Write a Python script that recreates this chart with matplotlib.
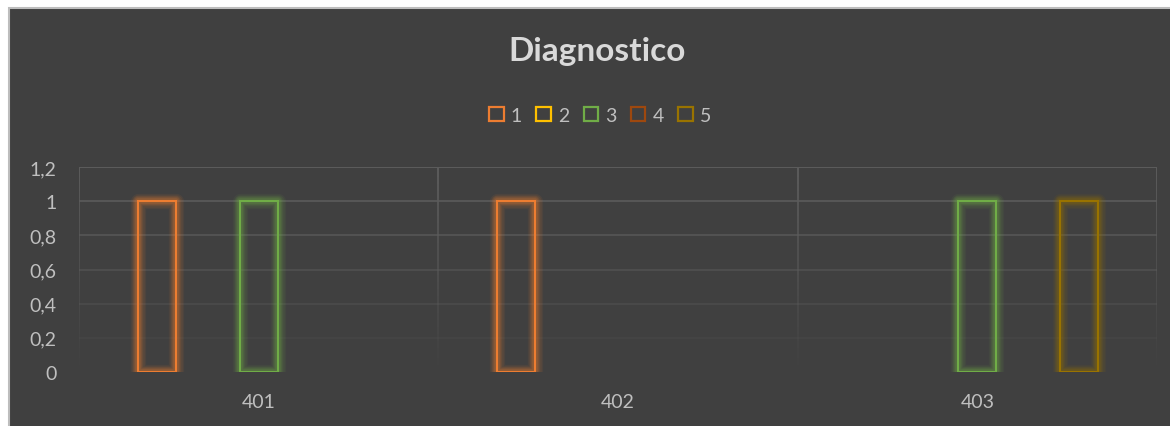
import matplotlib
matplotlib.use("Agg")
import matplotlib.pyplot as plt
from matplotlib.patches import Rectangle, Patch
from matplotlib.collections import LineCollection
import numpy as np

# data
categories = ["401", "402", "403"]
series_names = ["1", "2", "3", "4", "5"]
s1 = [1, 1, 0]
s2 = [0, 0, 0]
s3 = [1, 0, 1]
s4 = [0, 0, 0]
s5 = [0, 0, 1]
series_values = [s1, s2, s3, s4, s5]
y_ticks = [0, 0.2, 0.4, 0.6, 0.8, 1.0, 1.2]

colors = ["#ED7D31", "#FFC000", "#70AD47", "#9E480E", "#997300"]
bg = "#404040"
text_col = "#bfbfbf"
plt.rcParams["font.family"] = ["Lato", "DejaVu Sans"]

W, H = 1170, 427
fig = plt.figure(figsize=(W / 100, H / 100), dpi=100)
fig.patch.set_facecolor("white")
# chart area (cropped from a slide: thin frame only on the left and top)
fig.patches.append(Rectangle((9 / W, -0.1), 1.2, 1.1 - 9 / H, transform=fig.transFigure,
                             facecolor=bg, edgecolor="#bdbdbd", linewidth=1.5, zorder=-10))

ax = fig.add_axes([79 / W, 54 / H, (1157 - 79) / W, (373 - 168) / H])
ax.set_facecolor("none")
for sp in ax.spines.values():
    sp.set_visible(False)

ax.set_xlim(-0.5, 2.5)
ax.set_ylim(0, 1.2)

# gridlines fading towards the bottom
grid_rgb = np.array(matplotlib.colors.to_rgb("#5c5c5c"))
for yv in y_ticks[1:]:
    ax.plot([-0.5, 2.5], [yv, yv], color=grid_rgb, alpha=yv / 1.2, lw=1.4, zorder=0,
            solid_capstyle="butt")
ys = np.linspace(0, 1.2, 60)
segs, cols = [], []
for xv in np.arange(-0.5, 3.0, 1.0):
    for a, b in zip(ys[:-1], ys[1:]):
        segs.append([(xv, a), (xv, b)])
        cols.append((*grid_rgb, (a + b) / 2 / 1.2))
ax.add_collection(LineCollection(segs, colors=cols, linewidths=1.4, zorder=0))

step = 51 / 359.3
width = 38 / 359.3
x = np.arange(len(categories))
for i, (vals, c) in enumerate(zip(series_values, colors)):
    xs = x + (i - 2) * step
    idx = [k for k, v in enumerate(vals) if v > 0]
    xx = xs[idx]
    hh = [vals[k] for k in idx]
    # soft glow
    for lw, al in [(11, 0.07), (9, 0.09), (7, 0.11), (5.5, 0.13), (4, 0.16)]:
        ax.bar(xx, hh, width=width, facecolor="none", edgecolor=c, linewidth=lw,
               alpha=al, zorder=2, joinstyle="round")
    ax.bar(xx, hh, width=width, facecolor="none", edgecolor=c, linewidth=1.5, zorder=3)

ax.set_yticks(y_ticks)
ax.set_yticklabels([f"{v:g}".replace(".", ",") for v in y_ticks])
ax.set_xticks(x)
ax.set_xticklabels(categories)
ax.tick_params(axis="y", length=0, pad=16, labelsize=14, labelcolor=text_col)
ax.tick_params(axis="x", length=0, pad=15, labelsize=14, labelcolor=text_col)

fig.text(597 / W, 1 - 61 / H, "Diagnostico", ha="center", va="baseline",
         fontsize=24, fontweight="bold", color="#d9d9d9")

handles = [Patch(facecolor="none", edgecolor=c, linewidth=1.6) for c in colors]
fig.legend(handles, series_names, loc="center", bbox_to_anchor=(600 / W, 1 - 116 / H),
           ncol=5, frameon=False, fontsize=14, labelcolor=text_col,
           handlelength=0.75, handleheight=0.75, handletextpad=0.35, columnspacing=0.75)

fig.savefig("out.png", dpi=100, facecolor=fig.get_facecolor())
